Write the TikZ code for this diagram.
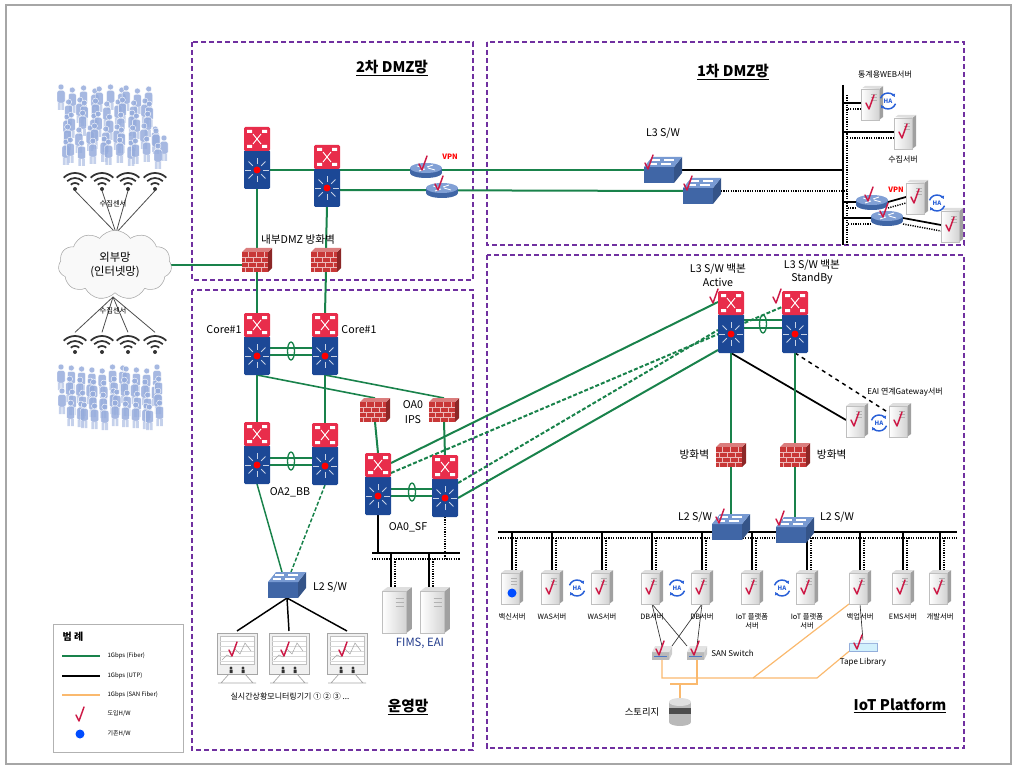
\documentclass[tikz,border=0pt]{standalone}
\usepackage{fontspec}
\setmainfont{Noto Sans CJK KR}
\definecolor{zonepurple}{RGB}{112,48,160}
\definecolor{fibergreen}{RGB}{25,130,75}
\definecolor{sanorange}{RGB}{250,185,110}
\definecolor{swred}{RGB}{232,45,75}
\definecolor{swblue}{RGB}{28,72,150}
\definecolor{wgblue}{RGB}{75,120,195}
\definecolor{fwred}{RGB}{200,55,55}
\definecolor{crowdblue}{RGB}{150,172,220}
\definecolor{checkred}{RGB}{205,25,70}
\definecolor{hablue}{RGB}{40,95,215}
\definecolor{srvgray}{RGB}{200,200,200}
\definecolor{fimsblue}{RGB}{35,60,140}
\usetikzlibrary{calc}
\usetikzlibrary{positioning}
\usetikzlibrary{shapes.symbols}
\usetikzlibrary{arrows.meta}
\pgfdeclarelayer{background}
\pgfsetlayers{background,main}

\tikzset{
  zone/.style={draw=zonepurple, line width=1pt, dash pattern=on 4pt off 2pt},
  fiber/.style={draw=fibergreen, line width=1.5pt},
  fiberdash/.style={fiber, dash pattern=on 3pt off 1.5pt},
  utp/.style={draw=black, line width=1.6pt},
  utpdots/.style={draw=black, line width=1.1pt, dash pattern=on 0.9pt off 0.9pt},
  sanline/.style={draw=sanorange, line width=0.9pt},
  devbox/.style={inner sep=0pt, outer sep=0pt},
  zonetitle/.style={font=\bfseries\fontsize{11}{13}\selectfont},
  lbl/.style={font=\fontsize{8}{10}\selectfont, inner sep=1pt},
  srvtext/.style={font=\fontsize{5.5}{6.6}\selectfont, inner sep=1pt, align=center},
  legtext/.style={font=\fontsize{4.5}{5.4}\selectfont, inner sep=1pt, anchor=west},
  vpntext/.style={font=\bfseries\fontsize{5.5}{6.5}\selectfont, text=red, inner sep=0pt},
}

% multilayer switch: red routing head on a blue switch body
\newcommand\mlsw[3]{%
  \node[devbox, minimum width=19.5pt, minimum height=46.5pt] (#1) at (#2,#3) {};
  \begin{scope}[shift={(#2,#3)}]
    \fill[swblue, rounded corners=1pt] (-13,-8) rectangle (13,31);
    \fill[swred, rounded corners=1pt] (-13,-31) rectangle (13,-7);
    \fill[white] (-10,-28) rectangle (-5,-25) (5,-28) rectangle (10,-25)
      (-10,-13) rectangle (-5,-10) (5,-13) rectangle (10,-10);
    \draw[white, line width=0.7pt] (-4,-24) -- (4,-14) (-4,-14) -- (4,-24);
    \foreach \a in {0,45,...,315}
      {\draw[white!75!swblue, line width=0.7pt] (0,12) ++(\a:6) -- ++(\a:6);}
    \fill[red] (0,12) circle (3.5);
  \end{scope}}

% firewall: brick block
\newcommand\firewall[3]{%
  \node[devbox, minimum width=22.5pt, minimum height=18pt] (#1) at (#2,#3) {};
  \begin{scope}[shift={(#2,#3)}]
    \fill[fwred!70!black] (11,-8) -- (15,-12) -- (15,8) -- (11,12) -- cycle;
    \fill[fwred!65!white] (-15,-8) -- (-11,-12) -- (15,-12) -- (11,-8) -- cycle;
    \fill[fwred] (-15,-8) rectangle (11,12);
    \draw[white!65!fwred, line width=0.4pt]
      (-15,-3) -- (11,-3) (-15,2) -- (11,2) (-15,7) -- (11,7);
    \foreach \x in {-9,-1,7}
      {\draw[white!65!fwred, line width=0.4pt] (\x,-8) -- (\x,-3) (\x,2) -- (\x,7);}
    \foreach \x in {-12,-4,4}
      {\draw[white!65!fwred, line width=0.4pt] (\x,-3) -- (\x,2) (\x,7) -- (\x,12);}
  \end{scope}}

% workgroup switch: blue box
\newcommand\wgsw[3]{%
  \node[devbox, minimum width=28.5pt, minimum height=19.5pt] (#1) at (#2,#3) {};
  \begin{scope}[shift={(#2,#3)}]
    \fill[wgblue!70!black] (11,-3) -- (19,-13) -- (19,3) -- (11,13) -- cycle;
    \fill[wgblue!85!black] (-19,-3) rectangle (11,13);
    \fill[wgblue!75!white] (-19,-3) -- (-11,-13) -- (19,-13) -- (11,-3) -- cycle;
    \draw[white, line width=0.8pt] (-12,-10) -- (-3,-10) (1,-10) -- (11,-10)
      (-14,-6) -- (-6,-6) (-2,-6) -- (8,-6);
  \end{scope}}

% router: blue disc
\newcommand\router[3]{%
  \node[devbox, minimum width=24pt, minimum height=12pt] (#1) at (#2,#3) {};
  \begin{scope}[shift={(#2,#3)}]
    \fill[wgblue!85!black] (0,3) ellipse (16 and 5);
    \fill[wgblue!85!black] (-16,-2) rectangle (16,3);
    \fill[wgblue!70!white] (0,-2) ellipse (16 and 5);
    \draw[white, line width=0.6pt] (-9,-4) -- (-2,-2) (9,0) -- (2,-2)
      (-7,1) -- (-1,-1) (7,-5) -- (1,-3);
  \end{scope}}

% server tower
\newcommand\server[4][1]{%
  \node[devbox, minimum width=#1*16.5pt, minimum height=#1*25.5pt] (#2) at (#3,#4) {};
  \begin{scope}[shift={(#3,#4)}, scale=#1]
    \fill[srvgray!80!black] (7,-14) -- (11,-17) -- (11,14) -- (7,17) -- cycle;
    \fill[srvgray!60!white] (-11,-14) -- (-7,-17) -- (11,-17) -- (7,-14) -- cycle;
    \shade[left color=white, right color=srvgray!80] (-11,-14) rectangle (7,17);
    \foreach \y in {-9,-6,-3} {\draw[gray!60, line width=0.3pt] (-1,\y) -- (5,\y);}
    \draw[gray!50, line width=0.3pt] (-11,-14) rectangle (7,17);
  \end{scope}}

% HA pair mark
\newcommand\hamark[3]{%
  \node[devbox, font=\bfseries\fontsize{4.5}{5}\selectfont, text=hablue] (#1) at (#2,#3) {HA};
  \begin{scope}[shift={(#2,#3)}]
    \draw[hablue, line width=1.1pt, -{Latex[length=2.2pt, width=3pt]}] (200:8) arc (200:330:8);
    \draw[hablue, line width=1.1pt, -{Latex[length=2.2pt, width=3pt]}] (20:8) arc (20:150:8);
  \end{scope}}

% red check = new hardware
\newcommand\chk[2]{%
  \draw[checkred, line width=1.1pt, line cap=round, line join=round, shift={({#1},{#2})}]
    (-4,-1) -- (-1,5) -- (4,-9);}

% wifi sensor, dot at (x,y)
\newcommand\wifi[3]{%
  \node[devbox, minimum width=27pt, minimum height=16pt] (#1) at (#2,{#3-9}) {};
  \begin{scope}[shift={(#2,#3)}]
    \fill[black!80] (0,0) circle (2);
    \foreach \r in {6,11,16}
      {\draw[black!80, line width=1.3pt] (225:\r) arc (225:315:\r);}
  \end{scope}}

% one user in a crowd
\newcommand\person[2]{%
  \begin{scope}[shift={({#1},{#2})}, fill opacity=0.85]
    \filldraw[fill=crowdblue, draw=white, line width=0.3pt] (0,-9) circle (3);
    \filldraw[fill=crowdblue, draw=white, line width=0.3pt, rounded corners=1.5pt]
      (-4,-5.5) rectangle (4,7);
    \fill[crowdblue!65!white] (-3.2,7) rectangle (-0.4,14) (0.4,7) rectangle (3.2,14);
  \end{scope}}

% monitoring display
\newcommand\monitor[3]{%
  \node[devbox, minimum width=30pt, minimum height=39pt] (#1) at (#2,#3) {};
  \begin{scope}[shift={(#2,#3)}]
    \filldraw[fill=gray!12, draw=gray!70, line width=0.5pt] (-20,-24) rectangle (20,17);
    \filldraw[fill=white, draw=gray!50, line width=0.3pt] (-17,-21) rectangle (17,7);
    \foreach \y in {-16,-11,-6,-1,4} {\draw[gray!30, line width=0.3pt] (-17,\y) -- (17,\y);}
    \draw[gray!70, line width=0.4pt] (-15,3) -- (-10,-2) -- (-6,0) -- (-2,-8) -- (3,-3) -- (8,-14) -- (14,-6);
    \fill[black!80] (-6,11) circle (1.6) (6,11) circle (1.6);
    \fill[black!80] (-7.5,12.5) rectangle (-4.5,16) (4.5,12.5) rectangle (7.5,16);
    \draw[gray!70, line width=0.5pt] (-8,17) -- (-16,26) (8,17) -- (16,26) (-19,26) -- (19,26);
  \end{scope}}

% SAN switch: small grey box
\newcommand\sansw[3]{%
  \node[devbox, minimum width=15pt, minimum height=10.5pt] (#1) at (#2,#3) {};
  \begin{scope}[shift={(#2,#3)}]
    \fill[gray!55] (-10,-1) rectangle (7,7);
    \fill[gray!40] (7,-1) -- (10,-7) -- (10,1) -- (7,7) -- cycle;
    \fill[gray!22] (-10,-1) -- (-7,-7) -- (10,-7) -- (7,-1) -- cycle;
    \draw[wgblue, line width=0.4pt] (-8,3) -- (5,3);
  \end{scope}}

\begin{document}
\begin{tikzpicture}[x=0.75pt, y=-0.75pt]
  \useasboundingbox (0,0) rectangle (1018,770);
  \draw[gray!70, line width=0.8pt] (6,5) rectangle (1011,764);

  % users above and below the internet
  \foreach \r in {0,...,4} {
    \foreach \c in {0,...,9} {\person{64+\c*9.3+mod(\r,2)*4.6+mod(\c*37+\r*17,7)-3}{98+\r*13+mod(\c*13+\r*7,5)-2}}
  }
  \person{156}{140} \person{164}{147} \person{158}{155}
  \foreach \r in {0,...,3} {
    \foreach \c in {0,...,10} {\person{64+\c*9.3+mod(\r,2)*4.6+mod(\c*29+\r*11,7)-3}{378+\r*12+mod(\c*11+\r*5,5)-2}}
  }

  % sensors
  \foreach \x [count=\i] in {75,102,128,155} {
    \wifi{wt\i}{\x}{189}
    \wifi{wb\i}{\x}{352}
  }
  \coordinate (hubT) at (116,233);
  \coordinate (hubB) at (113,297);
  \node[srvtext] (sensT) at (113,204) {수집센서};
  \node[srvtext] (sensB) at (113,311) {수집센서};

  \node[cloud, cloud puffs=11, cloud puff arc=110, aspect=1.7, draw=gray!70, fill=gray!5,
    minimum width=85pt, minimum height=52pt, inner sep=0pt, align=center,
    font=\fontsize{8.5}{10.5}\selectfont] (inet) at (115,265) {외부망\\(인터넷망)};

  % zone titles
  \node[zonetitle] (t2dmz) at (392,68) {\underline{2차 DMZ망}};
  \node[zonetitle] (t1dmz) at (733,72) {\underline{1차 DMZ망}};
  \node[zonetitle] (tops) at (408,707) {\underline{운영망}};
  \node[zonetitle] (tiot) at (900,706) {\underline{IoT Platform}};

  % 2nd DMZ
  \mlsw{dmzA}{257}{158}
  \mlsw{dmzB}{327}{176}
  \router{vpnA}{426}{170}
  \router{vpnB}{442}{190}
  \firewall{fwA}{257}{260}
  \firewall{fwB}{326}{260}
  \node[lbl] (fwlbl) at (298,240) {내부DMZ 방화벽};
  \node[vpntext] (vpnlA) at (450,157) {VPN};

  % 1st DMZ
  \wgsw{l3A}{663}{170}
  \wgsw{l3B}{702}{191}
  \node[lbl] (l3lbl) at (663,133) {L3 S/W};
  \coordinate (busTop) at (843,85);
  \coordinate (busBot) at (843,245);
  \coordinate (busDot) at (847,95);
  \coordinate (busDotBot) at (847,245);
  \server{web1}{872}{103}
  \server{web2}{905}{132}
  \hamark{haW}{888}{101}
  \node[srvtext, font=\fontsize{6}{7}\selectfont] (weblbl) at (885,75) {통계용WEB서버};
  \router{vpnC}{872}{202}
  \router{vpnD}{887}{218}
  \server{col1}{917}{197}
  \server{col2}{952}{225}
  \hamark{haC}{937}{203}
  \node[srvtext, font=\fontsize{6}{7}\selectfont] (collbl) at (903,160) {수집서버};
  \node[vpntext] (vpnlC) at (896,190) {VPN};

  % operation network
  \mlsw{coreA}{257}{344}
  \mlsw{coreB}{325}{344}
  \node[lbl] (coreAlbl) at (224,330) {Core\#1};
  \node[lbl] (coreBlbl) at (359,330) {Core\#1};
  \mlsw{bbA}{257}{453}
  \mlsw{bbB}{325}{454}
  \node[lbl] (bblbl) at (290,492) {OA2\_BB};
  \firewall{ipsA}{375}{410}
  \firewall{ipsB}{444}{410}
  \node[lbl, font=\fontsize{8}{11}\selectfont, align=center] (ipslbl) at (413,412) {OA0\\IPS};
  \mlsw{sfA}{378}{484}
  \mlsw{sfB}{445}{486}
  \node[lbl] (sflbl) at (408,527) {OA0\_SF};
  \server[1.35]{fims}{397}{610}
  \server[1.35]{eaiS}{435}{610}
  \node[lbl, font=\fontsize{8.5}{10}\selectfont, text=fimsblue] (fimslbl) at (420,643) {FIMS, EAI};
  \wgsw{l2op}{287}{585}
  \node[lbl] (l2oplbl) at (330,587) {L2 S/W};
  \monitor{monA}{237}{657}
  \monitor{monB}{289}{657}
  \monitor{monC}{347}{657}
  \node[srvtext, font=\fontsize{6}{7}\selectfont] (monlbl) at (290,696) {실시간상황모니터링기기 ① ② ③ ...};
  \coordinate (opbus) at (372,553);
  \coordinate (opbusE) at (460,553);
  \coordinate (opdot) at (372,559);
  \coordinate (opdotE) at (460,559);

  % IoT platform backbone
  \mlsw{act}{731}{322}
  \mlsw{stb}{795}{322}
  \node[lbl, align=center] (actlbl) at (718,275) {L3 S/W 백본\\Active};
  \node[lbl, align=center] (stblbl) at (812,272) {L3 S/W 백본\\StandBy};
  \server{eai1}{857}{420}
  \server{eai2}{900}{420}
  \hamark{haE}{879}{423}
  \node[srvtext, font=\fontsize{6}{7}\selectfont] (eailbl) at (905,392) {EAI 연계Gateway서버};
  \firewall{fwC}{731}{455}
  \firewall{fwD}{795}{455}
  \node[lbl, left=4pt of fwC] (fwClbl) {방화벽};
  \node[lbl, right=4pt of fwD] (fwDlbl) {방화벽};
  \wgsw{l2C}{731}{527}
  \wgsw{l2D}{795}{530}
  \node[lbl] (l2Clbl) at (695,517) {L2 S/W};
  \node[lbl] (l2Dlbl) at (837,517) {L2 S/W};
  \coordinate (iotW) at (498,532);
  \coordinate (iotE) at (957,532);
  \coordinate (iotWd) at (498,538);
  \coordinate (iotEd) at (957,538);

  % IoT servers
  \foreach \n/\x in {vac/512, wasA/552, wasB/602, dbA/652, dbB/702, iotA/752, iotB/807, bak/860, ems/903, dev/940}
    {\server{\n}{\x}{587}}
  \hamark{haWas}{577}{588}
  \hamark{haDb}{677}{588}
  \hamark{haIot}{782}{588}
  \foreach \n/\t in {vac/백신서버, wasA/WAS서버, wasB/WAS서버, dbA/DB서버, dbB/DB서버,
      iotA/{IoT 플랫폼\\서버}, iotB/{IoT 플랫폼\\서버}, bak/백업서버, ems/EMS서버, dev/개발서버}
    {\node[srvtext, below=6pt of \n] (\n-lbl) {\t};}
  \sansw{sanA}{662}{653}
  \sansw{sanB}{697}{653}
  \node[srvtext, font=\fontsize{6}{7}\selectfont, right=2pt of sanB] (sanlbl) {SAN Switch};
  \node[devbox, minimum width=21pt, minimum height=8pt] (tape) at (863,646) {};
  \fill[cyan!18, draw=wgblue!60, line width=0.3pt] (849,643) rectangle (877,651);
  \fill[cyan!8] (849,643) -- (852,640) -- (880,640) -- (877,643) -- cycle;
  \node[srvtext, font=\fontsize{6}{7}\selectfont] (tapelbl) at (863,662) {Tape Library};
  \node[devbox, minimum width=16.5pt, minimum height=21pt] (stor) at (680,712) {};
  \begin{scope}[shift={(680,712)}]
    \fill[gray!55] (-11,-10) rectangle (11,10);
    \fill[gray!55] (0,10) ellipse (11 and 4);
    \fill[black!70] (-11,-4) rectangle (11,2);
    \fill[gray!25] (0,-10) ellipse (11 and 4);
  \end{scope}
  \node[lbl, font=\fontsize{7}{8}\selectfont] (storlbl) at (642,712) {스토리지};
  \coordinate (sanJ) at (753,678);
  \coordinate (sanT) at (817,678);
  \coordinate (sanK) at (670,684);

  % new hardware marks
  \chk{423}{165} \chk{439}{185}
  \chk{649}{164} \chk{688}{185}
  \chk{870}{104} \chk{903}{133}
  \chk{869}{196} \chk{884}{212}
  \chk{915}{198} \chk{950}{226}
  \chk{714}{298} \chk{777}{298}
  \chk{855}{421} \chk{898}{421}
  \chk{720}{518} \chk{780}{520}
  \foreach \x in {552,602,652,702,752,807,860,903,940} {\chk{\x-2}{589}}
  \fill[blue!70!cyan] (512,593) circle (4.5);
  \chk{660}{650} \chk{695}{650}
  \chk{858}{644}
  \foreach \x in {237,289,347} {\chk{\x-4}{651}}

  % legend
  \draw[gray!60, line width=0.5pt] (53,624) rectangle (183,752);
  \node[font=\bfseries\fontsize{7.5}{9}\selectfont, anchor=west] (lgtitle) at (58,637) {범 례};
  \draw[fiber] (62,656) -- (100,656);
  \node[legtext] (lg1) at (106,656) {1Gbps (Fiber)};
  \draw[utp] (62,676) -- (100,676);
  \node[legtext] (lg2) at (106,676) {1Gbps (UTP)};
  \draw[sanline, line width=2pt] (62,695) -- (100,695);
  \node[legtext] (lg3) at (106,695) {1Gbps (SAN Fiber)};
  \chk{80}{716}
  \node[legtext] (lg4) at (106,714) {도입H/W};
  \fill[blue!70!cyan] (80,734) circle (4.5);
  \node[legtext] (lg5) at (106,734) {기존H/W};

  \begin{pgfonlayer}{background}
    % zones
    \draw[zone] (192,42) rectangle (473,280);
    \draw[zone] (487,42) rectangle (964,245);
    \draw[zone] (192,290) rectangle (473,750);
    \draw[zone] (487,255) rectangle (964,748);

    % sensors to the internet
    \foreach \i in {1,...,4} {
      \draw[black!70, line width=0.6pt] (hubT) -- (wt\i.south);
      \draw[black!70, line width=0.6pt] (hubB) -- (wb\i.north);
    }
    \draw[fiber] (inet.east) -- (inet.east -| fwA.west);

    % 2nd DMZ up to 1st DMZ
    \draw[fiber] (dmzA.south) -- (fwA.north);
    \draw[fiber] (dmzB.south) -- (fwB.north);
    \draw[fiber] ($(dmzA.east)+(0,12)$) -- (l3A.west);
    \draw[fiber] ($(dmzB.east)+(0,14)$) -- (l3B.west);

    % 1st DMZ server LAN
    \draw[utp] (busTop) -- (busBot);
    \draw[utpdots] (busDot) -- (busDotBot);
    \draw[utp] (l3A.east) -- (l3A.east -| busTop);
    \draw[utpdots] (l3B.east) -- (l3B.east -| busDot);
    \foreach \n in {web1,web2,vpnC,vpnD} {
      \draw[utp, line width=1.3pt] (\n.west) -- (\n.west -| busTop);
      \draw[utpdots] ($(\n.west)+(0,6)$) -- ($(\n.west -| busDot)+(0,6)$);
    }
    \draw[utp, line width=1.3pt] (vpnC.east) -- (col1.west);
    \draw[utpdots] ($(vpnC.east)+(0,6)$) -- ($(col1.west)+(0,6)$);
    \draw[utp, line width=1.3pt] (vpnD.east) -- (col2.west);
    \draw[utpdots] ($(vpnD.east)+(0,6)$) -- ($(col2.west)+(0,6)$);

    % core and OA
    \draw[fiber] (fwA.south) -- (coreA.north);
    \draw[fiber] (fwB.south) -- (coreB.north);
    \draw[fiber] ($(coreA.east)+(0,4)$) -- ($(coreB.west)+(0,4)$);
    \draw[fiber] ($(coreA.east)+(0,11)$) -- ($(coreB.west)+(0,11)$);
    \draw[fibergreen, line width=1pt] (291,351) ellipse (3.5 and 9);
    \draw[fiber] (coreA.south) -- (bbA.north);
    \draw[fiber] (coreB.south) -- (bbB.north);
    \draw[fiber, line width=1.2pt] (coreA.south) -- (ipsA.north);
    \draw[fiber, line width=1.2pt] (coreB.south) -- (ipsB.north);
    \draw[fiber] ($(bbA.east)+(0,5)$) -- ($(bbB.west)+(0,4)$);
    \draw[fiber] ($(bbA.east)+(0,12)$) -- ($(bbB.west)+(0,11)$);
    \draw[fibergreen, line width=1pt] (291,461) ellipse (3.5 and 9);
    \draw[fiber] (ipsA.south) -- (sfA.north);
    \draw[fiber] (ipsB.south) -- (sfB.north);
    \draw[fiber] ($(sfA.east)+(0,5)$) -- ($(sfB.west)+(0,3)$);
    \draw[fiber] ($(sfA.east)+(0,12)$) -- ($(sfB.west)+(0,10)$);
    \draw[fibergreen, line width=1pt] (412,492) ellipse (3.5 and 9);

    % OA0_SF up to the backbone
    \draw[fiber] ($(sfA.east)+(0,-21)$) -- ($(act.west)+(0,-20)$);
    \draw[fiberdash] ($(sfA.east)+(0,-11)$) -- ($(stb.west)+(0,-15)$);
    \draw[fiberdash] ($(sfB.east)+(0,-3)$) -- ($(act.west)+(0,8)$);
    \draw[fiber] ($(sfB.east)+(0,12)$) -- ($(act.west)+(0,28)$);

    % OA2_BB down to the monitors
    \draw[fiber, line width=1.1pt] (bbA.south) -- ($(l2op.north)+(-5,0)$);
    \draw[fiberdash, line width=1.1pt] (bbB.south) -- ($(l2op.north)+(4,0)$);
    \foreach \m in {monA,monB,monC}
      {\draw[black, line width=1.1pt] (l2op.south) -- (\m.north);}

    % OA0_SF down to FIMS, EAI
    \draw[utp, line width=1.2pt] (sfA.south) -- (sfA.south |- opbus);
    \draw[utp, line width=1.2pt] (opbus) -- (opbusE);
    \draw[utpdots] (sfB.south) -- (sfB.south |- opdot);
    \draw[utpdots] (opdot) -- (opdotE);
    \foreach \n in {fims,eaiS} {
      \draw[utp, line width=1.1pt] ($(\n.north |- opbus)+(-6,0)$) -- ($(\n.north)+(-6,0)$);
      \draw[utpdots] ($(\n.north |- opdot)+(-2,0)$) -- ($(\n.north)+(-2,0)$);
    }

    % backbone pair
    \draw[fiber] ($(act.east)+(0,-2)$) -- ($(stb.west)+(0,-2)$);
    \draw[fiber] ($(act.east)+(0,6)$) -- ($(stb.west)+(0,6)$);
    \draw[fibergreen, line width=1pt] (763,324) ellipse (3.5 and 9);
    \draw[utp, line width=1.3pt] (act.south) -- (eai1.west);
    \draw[utp, line width=1.1pt, dashed] (stb.south) -- (eai2.center);
    \draw[fiber] (act.south) -- (fwC.north);
    \draw[fiber] (fwC.south) -- (l2C.north);
    \draw[fiber] (stb.south) -- (fwD.north);
    \draw[fiber] (fwD.south) -- (l2D.north);

    % IoT server LAN
    \draw[utp] (iotW) -- (iotE);
    \draw[utpdots] (iotWd) -- (iotEd);
    \foreach \n in {vac,wasA,wasB,dbA,dbB,iotA,iotB,bak,ems,dev} {
      \draw[utp, line width=1.3pt] (\n.north |- iotW) -- (\n.north);
      \draw[utpdots] ($(\n.north |- iotWd)+(4,0)$) -- ($(\n.north)+(4,0)$);
    }

    % DB to SAN switches
    \draw[black!80, line width=0.5pt] (dbA.south) -- (sanA.north);
    \draw[black!80, line width=0.5pt] (dbA.south) -- (sanB.north west);
    \draw[black!80, line width=0.5pt] (dbB.south) -- (sanA.north east);
    \draw[black!80, line width=0.5pt] (dbB.south) -- (sanB.north);
    \draw[black!80, line width=0.5pt] (bak.south) -- (tape.north);

    % SAN fiber
    \draw[sanline] (sanA.south) |- (sanT) -- (tape.south west);
    \draw[sanline] (sanJ) -- (bak.south west);
    \draw[sanline] (sanB.south) |- (sanK);
    \draw[sanline] (stor.north) |- (sanK);
  \end{pgfonlayer}
\end{tikzpicture}
\end{document}
